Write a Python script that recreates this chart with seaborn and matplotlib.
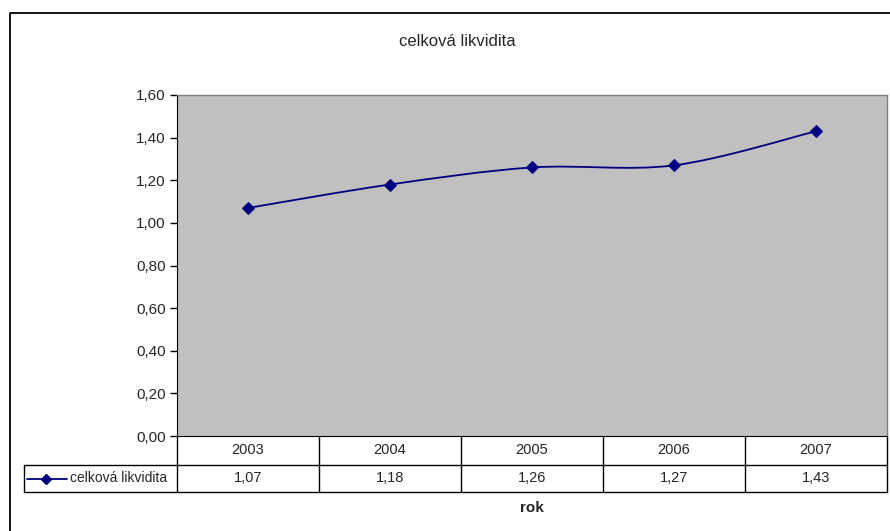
import matplotlib
matplotlib.use("Agg")
import matplotlib.pyplot as plt
from matplotlib.path import Path
from matplotlib.patches import PathPatch
from matplotlib.lines import Line2D
import seaborn as sns
import pandas as pd
import numpy as np

years = ["2003", "2004", "2005", "2006", "2007"]
values = [1.07, 1.18, 1.26, 1.27, 1.43]
series_name = "celková likvidita"
title = "celková likvidita"
xlabel = "rok"
yticks = [0.0, 0.2, 0.4, 0.6, 0.8, 1.0, 1.2, 1.4, 1.6]

sns.set_style("white")
plt.rcParams["font.family"] = ["Liberation Sans", "DejaVu Sans"]

W, H = 890, 531
fig = plt.figure(figsize=(W / 100, H / 100), dpi=100)

def fx(px):
    return px / W

def fy(py):
    return 1 - py / H

# outer frame
fig.add_artist(Line2D([fx(10), fx(10), fx(895)], [fy(540), fy(13), fy(13)],
                      transform=fig.transFigure, color="black", lw=1.3))

L, R, T, B = 177, 887, 95, 436
ax = fig.add_axes([fx(L), fy(B), fx(R - L), fy(T) - fy(B)])
ax.set_facecolor("#C0C0C0")

df = pd.DataFrame({"x": np.arange(len(years)), "y": values})
ax.set_xlim(-0.5, len(years) - 0.5)
ax.set_ylim(0, 1.6)

# smoothed line (Bezier through the data points, Catmull-Rom style)
pts = df[["x", "y"]].to_numpy()
n = len(pts)
verts = [tuple(pts[0])]
codes = [Path.MOVETO]
t = 1 / 6
for i in range(n - 1):
    p0 = pts[i - 1] if i > 0 else pts[i]
    p1 = pts[i]
    p2 = pts[i + 1]
    p3 = pts[i + 2] if i + 2 < n else pts[i + 1]
    c1 = p1 + (p2 - p0) * t
    c2 = p2 - (p3 - p1) * t
    verts += [tuple(c1), tuple(c2), tuple(p2)]
    codes += [Path.CURVE4] * 3
ax.add_patch(PathPatch(Path(verts, codes), facecolor="none", edgecolor="#000080", lw=1.3))

sns.lineplot(data=df, x="x", y="y", ax=ax, marker="D", markersize=6,
             color="#000080", linestyle="none", markeredgecolor="#000080")

ax.set_yticks(yticks)
ax.set_yticklabels([f"{v:.2f}".replace(".", ",") for v in yticks], fontsize=11)
ax.set_xticks([])
ax.set_xlabel("")
ax.set_ylabel("")
ax.tick_params(axis="y", direction="out", length=5, width=1, color="black", left=True, pad=3)
for s in ["top", "right"]:
    ax.spines[s].set_color("#808080")
    ax.spines[s].set_linewidth(1)
ax.spines["left"].set_color("black")
ax.spines["bottom"].set_color("black")

# data table
def hline(y, x0, x1):
    fig.add_artist(Line2D([fx(x0), fx(x1)], [fy(y), fy(y)], transform=fig.transFigure, color="black", lw=1))

def vline(x, y0, y1):
    fig.add_artist(Line2D([fx(x), fx(x)], [fy(y0), fy(y1)], transform=fig.transFigure, color="black", lw=1))

r1, r2, r3 = 436, 465, 492
TL = 24
colw = (R - L) / len(years)
hline(r2, TL, R)
hline(r3, TL, R)
vline(TL, r2, r3)
for i in range(len(years) + 1):
    vline(L + i * colw, r1, r3)
for i, (yr, v) in enumerate(zip(years, values)):
    cx = L + (i + 0.5) * colw
    fig.text(fx(cx), fy((r1 + r2) / 2), yr, ha="center", va="center", fontsize=10.5)
    fig.text(fx(cx), fy((r2 + r3) / 2), f"{v:.2f}".replace(".", ","), ha="center", va="center", fontsize=10.5)

# legend key in table
ly = fy((r2 + r3) / 2)
fig.add_artist(Line2D([fx(27), fx(67)], [ly, ly], transform=fig.transFigure, color="#000080", lw=1.3))
fig.add_artist(Line2D([fx(46)], [ly], transform=fig.transFigure, color="#000080", marker="D",
                      markersize=5, linestyle="none"))
fig.text(fx(70), ly, series_name, ha="left", va="center", fontsize=10)

fig.text(fx((L + R) / 2), fy(508), xlabel, ha="center", va="center", fontsize=11, fontweight="bold")
fig.text(fx(457), fy(41), title, ha="center", va="center", fontsize=12)

fig.savefig("out.png", dpi=100)
